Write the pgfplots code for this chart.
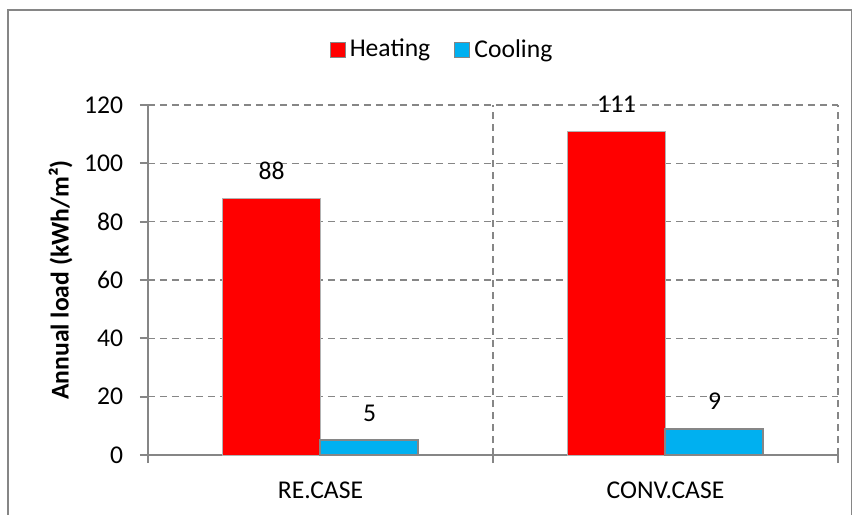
\documentclass[border=0pt]{standalone}
\usepackage{fontspec}
\setmainfont{Carlito}
\usepackage{pgfplots}
\pgfplotsset{compat=1.18}
\definecolor{heat}{HTML}{FF0000}
\definecolor{cool}{HTML}{00B0F0}
\definecolor{axgray}{HTML}{868686}
\begin{document}
\fontsize{12.8}{15}\selectfont
\begin{tikzpicture}
\useasboundingbox (-74pt,-30pt) rectangle (352.5pt,227.5pt);
\draw[axgray, line width=0.9pt] (-70pt,-35pt) -- (-70pt,222.5pt) -- (351.75pt,222.5pt) -- (351.75pt,-35pt);
\begin{axis}[
  at={(0,0)}, anchor=south west,
  scale only axis, width=345pt, height=175pt,
  xmin=0, xmax=2, ymin=0, ymax=120,
  axis x line*=bottom, axis y line*=left,
  axis line style={draw=axgray, line width=1pt, -},
  tick align=outside, major tick length=4pt,
  tick style={draw=axgray, line width=1pt},
  xtick={0,1,2}, xticklabels={},
  extra x ticks={0.5,1.5},
  extra x tick labels={RE.CASE,CONV.CASE},
  extra x tick style={grid=none, tick style={draw=none}, xticklabel style={yshift=-5pt}},
  ytick={0,20,...,120},
  yticklabel style={xshift=-4pt},
  /pgf/number format/assume math mode=true,
  ticklabel style={font=\fontsize{12.8}{15}\selectfont},
  grid=major,
  grid style={draw=axgray, line width=0.8pt, dash pattern=on 3.5pt off 2.5pt},
  ybar, bar width=49pt,
  nodes near coords,
  every node near coord/.append style={font=\fontsize{12.8}{15}\selectfont, anchor=south, yshift=4.7pt, text=black},
  clip=false,
  ylabel={\bfseries Annual load (kWh/m²)},
  ylabel style={at={(axis description cs:-0.1268,0.5)}, anchor=center, font=\fontsize{12.8}{15}\selectfont},
  legend style={at={(0.4275,1.157)}, anchor=center, draw=none, legend columns=2,
    font=\fontsize{12.8}{15}\selectfont,
    /tikz/every even column/.append style={column sep=10pt}},
  legend image code/.code={\draw[#1, draw=axgray, line width=0.6pt] (0pt,-3.75pt) rectangle (7.5pt,3.75pt);},
]
\addplot[fill=heat, draw=gray!60, line width=0.5pt, bar shift=-24.5pt] coordinates {(0.5,88) (1.5,111)};
\addplot[fill=cool, draw=axgray, line width=1pt, bar shift=24.5pt] coordinates {(0.5,5) (1.5,9)};
\legend{Heating, Cooling}
\end{axis}
\end{tikzpicture}
\end{document}
